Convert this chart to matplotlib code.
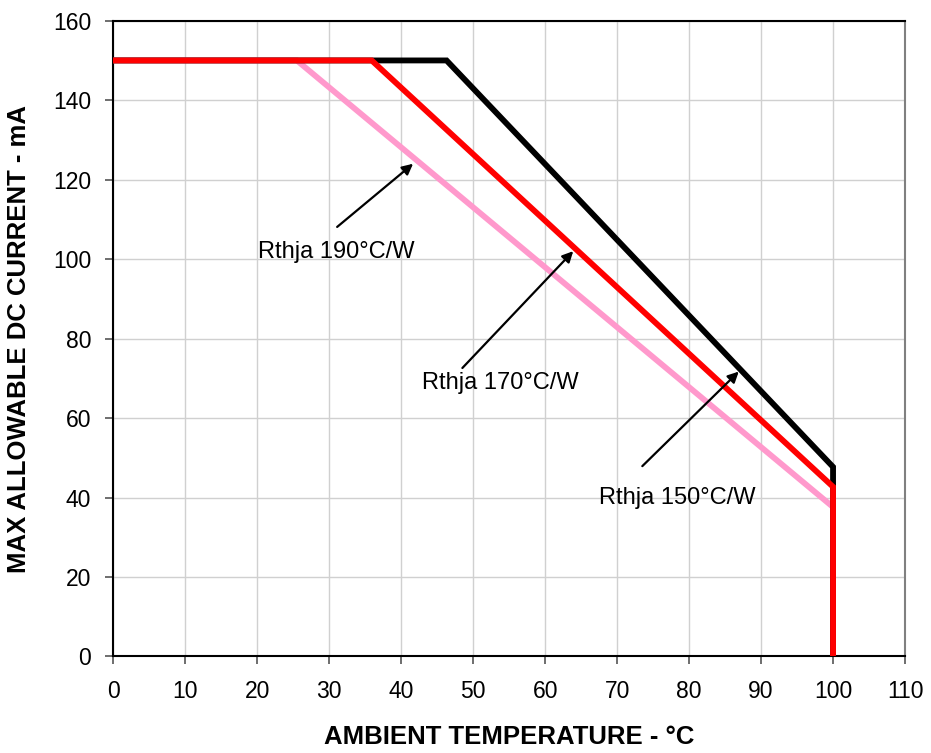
import matplotlib
matplotlib.use("Agg")
import matplotlib.pyplot as plt

plt.rcParams['font.family'] = ['Liberation Sans', 'DejaVu Sans']

# Data: ambient temperature (°C) vs max allowable DC current (mA)
t_190 = [0, 25.5, 100, 100]
i_190 = [150, 150, 37.6, 0]
t_170 = [0, 35.9, 100, 100]
i_170 = [150, 150, 42.7, 0]
t_150 = [0, 46.3, 100, 100]
i_150 = [150, 150, 47.7, 0]

labels = ["Rthja 190°C/W", "Rthja 170°C/W", "Rthja 150°C/W"]
label_xy = [(20.1, 101.8), (42.9, 68.9), (67.5, 40.0)]
arrow_tail = [(31.1, 108.1), (48.5, 72.6), (73.5, 47.9)]
arrow_tip = [(41.65, 124.0), (63.9, 102.0), (86.9, 71.7)]

xticks = list(range(0, 111, 10))
yticks = list(range(0, 161, 20))

fig = plt.figure(figsize=(9.31, 7.53), dpi=100)
ax = fig.add_axes([0.1217, 0.1282, 0.9721 - 0.1217, 0.9725 - 0.1282])

ax.plot(t_190, i_190, color='#ff99cc', lw=4.2, solid_joinstyle='miter', zorder=3)
ax.plot(t_150, i_150, color='black', lw=4.2, solid_joinstyle='miter', zorder=4)
ax.plot(t_170, i_170, color='#ff0000', lw=4.2, solid_joinstyle='miter', zorder=5)

for lab, (lx, ly), tail, tip in zip(labels, label_xy, arrow_tail, arrow_tip):
    ax.text(lx, ly, lab, fontsize=17, ha='left', va='center', zorder=6)
    ax.annotate('', xy=tip, xytext=tail,
                arrowprops=dict(arrowstyle='-|>', color='black', lw=1.6,
                                mutation_scale=16, shrinkA=0, shrinkB=0),
                zorder=6)

ax.set_xlim(0, 110)
ax.set_ylim(0, 160)
ax.set_xticks(xticks)
ax.set_yticks(yticks)
ax.grid(True, color='#d0d0d0', lw=1.0)
ax.set_axisbelow(True)
ax.tick_params(axis='both', direction='out', length=6, width=1.2, color='#555555',
               labelsize=16.5)
ax.tick_params(axis='x', pad=11)
ax.tick_params(axis='y', pad=10)

for s in ['left', 'bottom', 'top']:
    ax.spines[s].set_color('black')
    ax.spines[s].set_linewidth(1.5)
ax.spines['right'].set_color('#808080')
ax.spines['right'].set_linewidth(1.5)

ax.set_xlabel('AMBIENT TEMPERATURE - °C', fontsize=18.5, fontweight='bold',
              va='center', ha='center')
ax.xaxis.set_label_coords(0.5, -0.1266)
ax.set_ylabel('MAX ALLOWABLE DC CURRENT - mA', fontsize=18.5, fontweight='bold',
              va='center', ha='center')
ax.yaxis.set_label_coords(-0.1197, 0.5)

fig.savefig('out.png', dpi=100)
